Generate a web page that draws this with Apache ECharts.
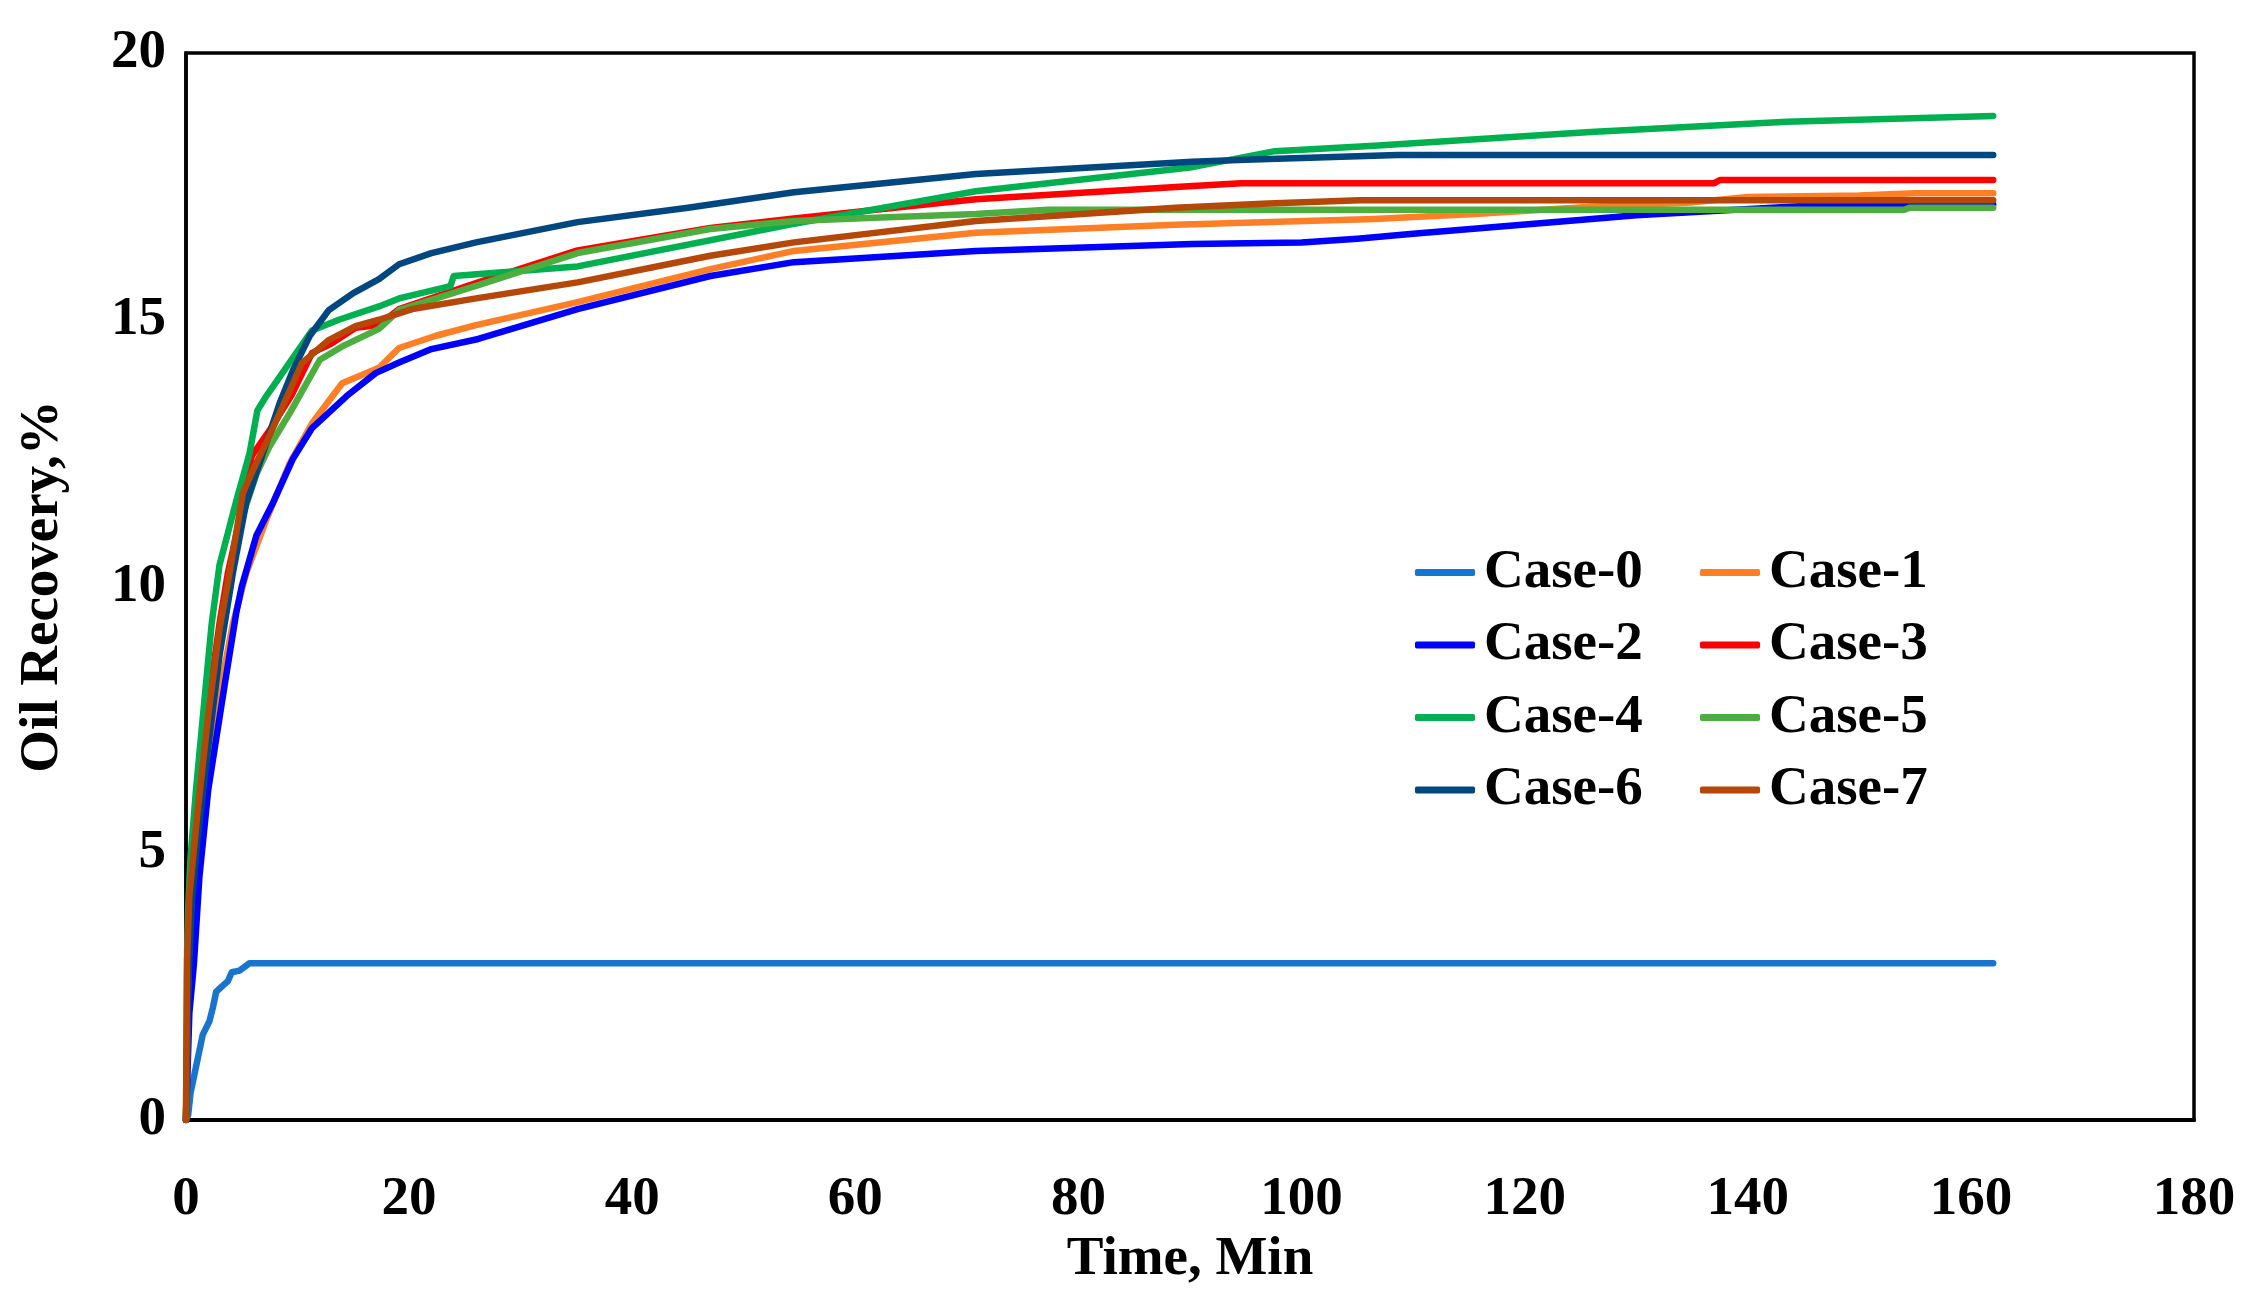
<!DOCTYPE html>
<html>
<head>
<meta charset="utf-8">
<script src="https://cdn.jsdelivr.net/npm/echarts@6/dist/echarts.min.js"></script>
<style>
html,body{margin:0;padding:0;background:#fff;}
#chart{width:2262px;height:1302px;}
</style>
</head>
<body>
<div id="chart"></div>
<script>
// Time (min), Oil Recovery (%) pairs
const seriesNames = ['Case-0','Case-1','Case-2','Case-3','Case-4','Case-5','Case-6','Case-7'];
const xTicks = [0,20,40,60,80,100,120,140,160,180];
const yTicks = [0,5,10,15,20];

const case0 = [[0,0],[0.2,0.1],[0.4,0.5],[0.8,0.9],[1.3,1.4],[1.5,1.6],[2.1,1.85],[2.4,2.1],[2.7,2.4],[3.2,2.5],[3.75,2.6],[4.1,2.77],[4.8,2.8],[5.7,2.94],[162,2.94]];
const case1 = [[0,0],[0.2,2.0],[0.6,3.8],[1.2,5.0],[2.0,6.5],[3.0,8.0],[4.2,9.3],[5.4,10.25],[7.2,11.25],[9.3,12.31],[11.3,13.06],[14.0,13.81],[17.3,14.1],[19.1,14.47],[22.4,14.7],[26,14.9],[35.1,15.33],[47,15.95],[54.5,16.29],[70.8,16.63],[88.7,16.78],[106.5,16.89],[115.5,16.98],[126,17.12],[135,17.2],[140,17.3],[150,17.33],[155,17.37],[162,17.37]];
const case2 = [[0,0],[0.3,2.0],[0.7,2.9],[1.2,4.55],[2.0,6.2],[3.5,8.2],[4.5,9.5],[5.0,10.0],[6.3,10.95],[7.8,11.57],[9.6,12.4],[11.3,12.97],[14.4,13.57],[17.0,14.0],[19.1,14.2],[22,14.45],[26.2,14.64],[35.1,15.2],[47,15.82],[54.5,16.08],[70.8,16.29],[90.2,16.42],[100,16.45],[105,16.52],[110,16.61],[126,16.89],[130,16.96],[145,17.13],[162,17.16]];
const case3 = [[0,0],[0.2,3.0],[0.5,4.5],[1.0,5.8],[2.0,7.8],[3.0,9.3],[3.75,10.25],[4.8,11.25],[5.9,12.45],[7.5,12.93],[9.5,13.6],[11.3,14.38],[13,14.55],[15.2,14.85],[17.3,14.9],[19.1,15.2],[26.2,15.7],[35.1,16.3],[47,16.72],[54.5,16.9],[70.8,17.26],[88.7,17.49],[94.6,17.56],[137,17.56],[137.5,17.62],[162,17.62]];
const case4 = [[0,0],[0.1,3.2],[0.2,4.0],[0.4,4.9],[0.9,6.2],[1.8,8.2],[2.3,9.3],[3.0,10.4],[4.5,11.6],[5.7,12.5],[6.4,13.3],[7.2,13.57],[9.3,14.2],[11.3,14.8],[13.7,15.0],[17.3,15.25],[19.1,15.4],[23.7,15.63],[24,15.82],[35.1,16.0],[54.5,16.8],[70.8,17.41],[90.2,17.86],[97.6,18.16],[106.5,18.26],[125.9,18.52],[143.5,18.71],[162,18.82]];
const case5 = [[0,0],[0.2,2.8],[0.5,4.3],[1.0,5.6],[2.0,7.5],[3.0,9.1],[4.0,10.3],[5.2,11.4],[6.3,12.1],[7.5,12.63],[9.3,13.25],[12,14.25],[14,14.5],[17.3,14.83],[19.1,15.18],[26.2,15.65],[35.1,16.25],[47,16.7],[54.5,16.85],[60,16.9],[70.8,16.98],[77.3,17.06],[154,17.06],[154.5,17.1],[162,17.1]];
const case6 = [[0,0],[0.2,2.5],[0.5,4.0],[1.0,5.2],[2.0,7.0],[3.0,8.7],[4.2,10.25],[5.4,11.57],[6.9,12.5],[8.4,13.44],[9.6,14.06],[11.1,14.7],[12.8,15.18],[15,15.5],[17.3,15.76],[19.1,16.04],[22,16.25],[26,16.45],[35.1,16.83],[45,17.1],[54.5,17.39],[70.8,17.73],[90.2,17.96],[95,18.0],[108.6,18.09],[162,18.09]];
const case7 = [[0,0],[0.1,3],[0.3,4.2],[1.0,5.7],[2.0,7.6],[3.0,9.2],[3.9,10.25],[5.1,11.75],[6.0,12.18],[7.2,12.7],[8.4,13.25],[10.4,14.19],[12.8,14.62],[15.2,14.88],[17.3,15.0],[20.3,15.2],[26,15.4],[35.1,15.7],[47,16.2],[54.5,16.45],[70.8,16.85],[88.7,17.1],[97,17.18],[105.2,17.24],[162,17.24]];

const seriesData = [case0,case1,case2,case3,case4,case5,case6,case7];
const colors = ['#1874CD','#FF7F27','#0000FF','#FF0000','#00B050','#4BAE3F','#00467F','#B54708'];

const FONT = '"Liberation Serif", "Times New Roman", serif';
const chart = echarts.init(document.getElementById('chart'));

const legendText = {fontFamily: FONT, fontWeight: 'bold', fontSize: 55, color: '#000', lineHeight: 55, padding: [0,0,0,4]};
const legendBase = {orient: 'vertical', top: 540, icon: 'roundRect', itemWidth: 60, itemHeight: 7,
  itemGap: 17.5, textStyle: legendText, selectedMode: false};

chart.setOption({
  animation: false,
  backgroundColor: '#fff',
  grid: {left: 186, right: 68, top: 53, bottom: 182, show: true, borderColor: '#000', borderWidth: 3.5, containLabel: false},
  xAxis: {
    type: 'value', min: xTicks[0], max: xTicks[xTicks.length-1], interval: 20,
    name: 'Time, Min', nameLocation: 'middle', nameGap: 105,
    nameTextStyle: {fontFamily: FONT, fontWeight: 'bold', fontSize: 55, color: '#000'},
    axisLine: {show: true, lineStyle: {color: '#000', width: 4}},
    axisTick: {show: false},
    splitLine: {show: false},
    axisLabel: {fontFamily: FONT, fontWeight: 'bold', fontSize: 55, color: '#000', margin: 52}
  },
  yAxis: {
    type: 'value', min: yTicks[0], max: yTicks[yTicks.length-1], interval: 5,
    name: 'Oil Recovery,%', nameLocation: 'middle', nameGap: 116,
    nameTextStyle: {fontFamily: FONT, fontWeight: 'bold', fontSize: 55, color: '#000'},
    axisLine: {show: true, lineStyle: {color: '#000', width: 3.5}},
    axisTick: {show: false},
    splitLine: {show: false},
    axisLabel: {fontFamily: FONT, fontWeight: 'bold', fontSize: 55, color: '#000', margin: 20}
  },
  legend: [
    Object.assign({data: ['Case-0','Case-2','Case-4','Case-6'], left: 1410}, legendBase),
    Object.assign({data: ['Case-1','Case-3','Case-5','Case-7'], left: 1695}, legendBase)
  ],
  series: seriesNames.map((n, i) => ({
    name: n, type: 'line', data: seriesData[i], symbol: 'none', showSymbol: false,
    lineStyle: {color: colors[i], width: 6.5, join: 'round', cap: 'round'}, itemStyle: {color: colors[i]},
    z: 2 + i
  }))
});
</script>
</body>
</html>
